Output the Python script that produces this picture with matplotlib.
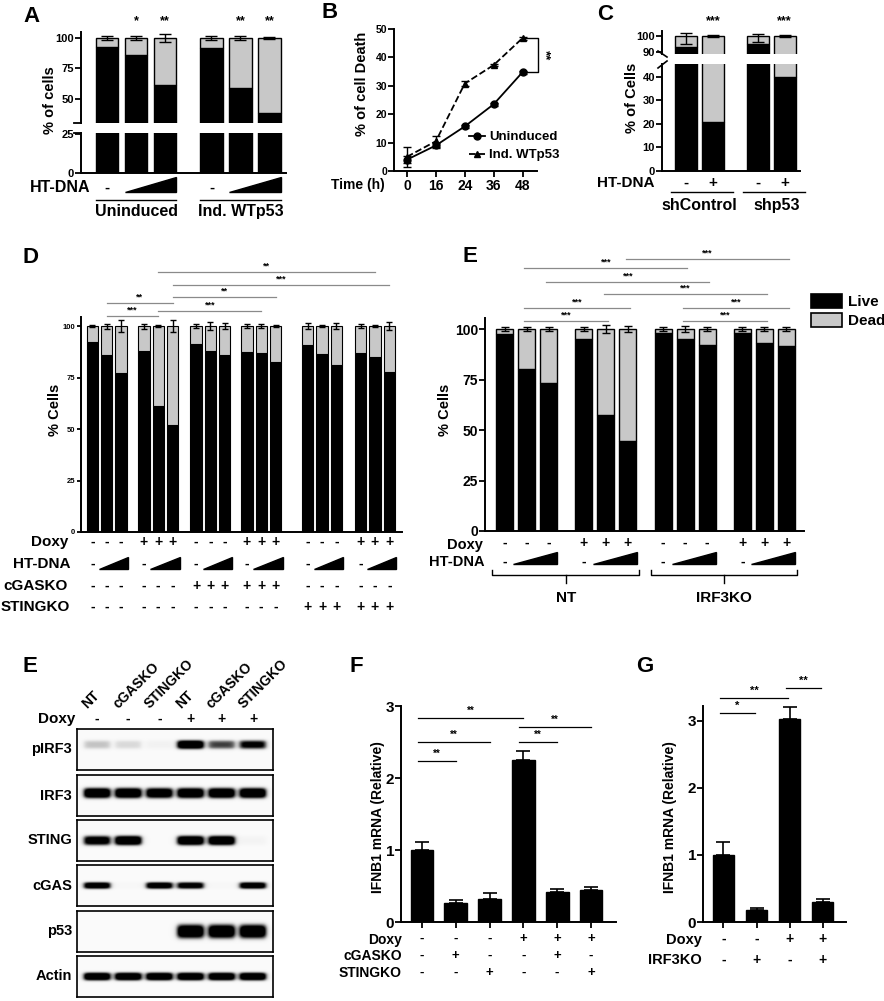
import numpy as np
import matplotlib
matplotlib.use("Agg")
import matplotlib.pyplot as plt
from matplotlib import transforms
from matplotlib.patches import Polygon, Patch
from matplotlib.lines import Line2D

plt.rcParams['font.family'] = ['Liberation Sans', 'DejaVu Sans']
plt.rcParams['font.weight'] = 'bold'

# ---------------- data ----------------
A_groups = ['Uninduced', 'Ind. WTp53']
A_live = [93, 86, 61, 92, 59, 38]
A_err = [2, 1.5, 3, 1.5, 2, 1]
A_sig = ['', '*', '**', '', '**', '**']

B_time = ['0', '16', '24', '36', '48']
B_uninduced = [4, 9, 15.7, 23.5, 34.8]
B_uninduced_err = [1.2, 1, 0.5, 0.5, 0.5]
B_wtp53 = [5, 10.5, 30.8, 37.3, 46.8]
B_wtp53_err = [3.5, 2, 1, 0.5, 0.5]

C_groups = ['shControl', 'shp53']
C_live = [93, 21, 95, 40]
C_err_lo = [5, 0.5, 4, 0.5]
C_err_hi = [2, 0.5, 1, 0.5]
C_htdna = ['-', '+', '-', '+']
C_sig = ['', '***', '', '***']

D_live = [92.5, 86, 77, 88, 61, 52, 91.5, 88, 86, 87.5, 87, 82.5,
          91, 86.5, 81, 87, 85, 77.5]
D_err = [0.5, 1.2, 3, 1.2, 0.5, 3, 1, 1.8, 1.5, 0.8, 1, 0.5,
         1.5, 0.5, 1.5, 1, 0.5, 1.8]
D_doxy = list('---+++---+++---+++')
D_cgasko = list('------++++++------')
D_stingko = list('------------++++++')
D_sig = [(4, 16, '**'), (5, 17, '***'), (5, 11, '**'), (4, 10, '***'),
         (1, 5, '**'), (1, 4, '***')]

E_live = [97.5, 80, 73.5, 95, 57.5, 44.5, 98, 95, 92, 98, 93, 91.5]
E_err = [1, 1, 1, 0.8, 1.8, 1.5, 0.8, 1.5, 0.8, 0.8, 0.8, 0.8]
E_doxy = list('---+++---+++')
E_groups = ['NT', 'IRF3KO']
E_sig = [(5, 11, '***'), (1, 7, '***'), (2, 8, '***'), (4, 10, '***'),
         (1, 5, '***'), (7, 11, '***'), (1, 4, '***'), (7, 10, '***')]

blot_lanes = ['NT', 'cGASKO', 'STINGKO', 'NT', 'cGASKO', 'STINGKO']
blot_doxy = ['-', '-', '-', '+', '+', '+']
blot_rows = ['pIRF3', 'IRF3', 'STING', 'cGAS', 'p53', 'Actin']
blot_intensity = [
    [0.22, 0.15, 0.05, 1.0, 0.55, 0.75],
    [1.0, 1.0, 0.95, 1.0, 1.0, 1.0],
    [0.85, 1.0, 0.0, 1.0, 1.0, 0.04],
    [0.9, 0.02, 0.9, 0.85, 0.02, 0.9],
    [0.0, 0.0, 0.0, 1.0, 1.0, 1.0],
    [1.0, 1.0, 1.0, 1.0, 1.0, 1.0],
]

F_vals = [1.0, 0.26, 0.32, 2.25, 0.42, 0.45]
F_err = [0.11, 0.04, 0.08, 0.12, 0.04, 0.03]
F_doxy = list('---+++')
F_cgasko = list('-+--+-')
F_stingko = list('--+--+')
F_sig = [(0, 3, '**'), (0, 2, '**'), (0, 1, '**'), (3, 5, '**'), (3, 4, '**')]

G_vals = [1.0, 0.18, 3.02, 0.30]
G_err = [0.2, 0.03, 0.18, 0.05]
G_doxy = list('--++')
G_irf3ko = list('-+-+')
G_sig = [(0, 2, '**'), (0, 1, '*'), (2, 3, '**')]

# ---------------- helpers ----------------
W, H = 884, 1001
fig = plt.figure(figsize=(W / 100, H / 100), dpi=100)
GRAY = '#c8c8c8'
SIGGRAY = '#8a8a8a'


def pax(x0, y0, x1, y1):
    return fig.add_axes([x0 / W, 1 - y1 / H, (x1 - x0) / W, (y1 - y0) / H])


def fy(y):
    return 1 - y / H


def fx(x):
    return x / W


def btr(ax):
    return transforms.blended_transform_factory(ax.transData, fig.transFigure)


def style(ax, fs, bottom=True, xticks=False):
    for s in ['top', 'right']:
        ax.spines[s].set_visible(False)
    ax.spines['left'].set_linewidth(1.4)
    ax.spines['bottom'].set_linewidth(1.4)
    if not bottom:
        ax.spines['bottom'].set_visible(False)
    ax.tick_params(axis='y', direction='out', length=4, width=1.3, labelsize=fs, pad=1)
    if not xticks:
        ax.tick_params(axis='x', length=0, labelbottom=False)
    for lab in ax.get_yticklabels():
        lab.set_fontweight('bold')


def letter(x, y, s):
    fig.text(fx(x), fy(y), s, fontsize=16, fontweight='bold', ha='center', va='center')


def stacked(ax, pos, live, width, err_lo, err_hi, lw=1.0, cap=3):
    dead = [100 - v for v in live]
    ax.bar(pos, live, width, color='black', edgecolor='black', linewidth=lw, zorder=2)
    ax.bar(pos, dead, width, bottom=live, color=GRAY, edgecolor='black', linewidth=lw, zorder=2)
    ax.errorbar(pos, [100] * len(pos), yerr=[err_lo, err_hi], fmt='none', ecolor='black',
                elinewidth=1.0, capsize=cap, capthick=1.0, zorder=3)


def sign_row(ax, xs, signs, y, fs):
    tr = btr(ax)
    for x, s in zip(xs, signs):
        ax.text(x, fy(y), s, transform=tr, ha='center', va='center', fontsize=fs,
                fontweight='bold', clip_on=False)


def ramp(ax, xl, xr, yb, yt):
    p = Polygon([(xl, fy(yb)), (xr, fy(yb)), (xr, fy(yt))], closed=True, color='black',
                transform=btr(ax), clip_on=False)
    ax.add_artist(p)


def hline(ax, x1, x2, y, color='black', lw=1.0):
    ax.add_artist(Line2D([x1, x2], [fy(y), fy(y)], color=color, lw=lw, transform=btr(ax),
                         clip_on=False))


def sig(ax, x1, x2, y, txt, color, fs, dy=2, lw=0.9):
    hline(ax, x1, x2, y, color, lw)
    ax.text((x1 + x2) / 2, fy(y - dy), txt, transform=btr(ax), ha='center', va='bottom',
            fontsize=fs, fontweight='bold', clip_on=False)


# ================= Panel A =================
letter(32, 16, 'A')
A_pos = np.array([0, 1, 2, 3.6, 4.6, 5.6])
A_w = 0.78
axAt = pax(81, 32, 286, 123)
axAb = pax(81, 133, 286, 173)
for ax in (axAt, axAb):
    stacked(ax, A_pos, A_live, A_w, A_err, A_err, cap=4)
axAt.set_yticks([50, 75, 100])
axAb.set_yticks([0, 25])
style(axAt, 8, bottom=False)
style(axAb, 8)
for yy in (123, 133):
    fig.add_artist(Line2D([fx(74), fx(81)], [fy(yy), fy(yy)], color='black', lw=1.3))
fig.text(fx(50), fy(100), '% of cells', rotation=90, fontsize=10.5, fontweight='bold',
         ha='center', va='center')
for x, s in zip(A_pos, A_sig):
    if s:
        axAt.text(x, fy(27), s, transform=btr(axAt), ha='center', va='bottom', fontsize=9,
                  fontweight='bold')
fig.text(fx(90), fy(188), 'HT-DNA', fontsize=11.5, fontweight='bold', ha='right', va='center')
for g in range(2):
    i0 = 3 * g
    sign_row(axAb, [A_pos[i0]], ['-'], 188, 11)
    ramp(axAb, A_pos[i0 + 1] - A_w / 2, A_pos[i0 + 2] + A_w / 2, 192, 177)
    hline(axAb, A_pos[i0] - A_w / 2, A_pos[i0 + 2] + A_w / 2, 200, 'black', 1.0)
    axAb.text((A_pos[i0] + A_pos[i0 + 2]) / 2, fy(212), A_groups[g], transform=btr(axAb),
              ha='center', va='center', fontsize=11.5, fontweight='bold')
for ax in (axAt, axAb):
    ax.set_xlim(-0.9, 6.17)
axAt.set_ylim(30, 105)
axAb.set_ylim(0, 25.6)

# ================= Panel B =================
letter(330, 13, 'B')
axB = pax(394, 29, 537, 171)
xB = np.arange(len(B_time))
axB.errorbar(xB, B_uninduced, yerr=B_uninduced_err, color='black', lw=1.3, marker='o',
             markersize=5, capsize=3, elinewidth=1, label='Uninduced')
axB.errorbar(xB, B_wtp53, yerr=B_wtp53_err, color='black', lw=1.3, ls='--', marker='^',
             markersize=5, capsize=3, elinewidth=1, label='Ind. WTp53')
axB.set_yticks([0, 10, 20, 30, 40, 50])
style(axB, 7.5, xticks=True)
axB.set_xticks(xB)
axB.set_xticklabels(B_time, fontsize=10, fontweight='bold')
axB.tick_params(axis='x', direction='out', length=4, width=1.3, pad=2)
fig.text(fx(358), fy(185), 'Time (h)', fontsize=10, fontweight='bold', ha='center', va='center')
fig.text(fx(362), fy(84), '% of cell Death', rotation=90, fontsize=10.5, fontweight='bold',
         ha='center', va='center')
hB = [Line2D([], [], color='black', lw=1.3, marker='o', markersize=5),
      Line2D([], [], color='black', lw=1.3, ls='--', marker='^', markersize=5)]
axB.legend(hB, ['Uninduced', 'Ind. WTp53'], loc='upper left',
           bbox_to_anchor=(fx(469), fy(131)), bbox_transform=fig.transFigure, frameon=False,
           handlelength=1.2, handletextpad=0.3, labelspacing=0.45,
           borderpad=0, borderaxespad=0, prop={'weight': 'bold', 'size': 9.5})
brx = 4.55
axB.add_artist(Line2D([4.1, brx, brx, 4.1], [B_wtp53[-1], B_wtp53[-1], B_uninduced[-1],
                      B_uninduced[-1]], color='black', lw=1.0, clip_on=False))
axB.text(4.78, (B_wtp53[-1] + B_uninduced[-1]) / 2, '**', rotation=270, ha='center',
         va='center', fontsize=9.5, fontweight='bold', clip_on=False)
axB.set_xlim(-0.45, 4.5)
axB.set_ylim(0, 50)

# ================= Panel C =================
letter(605, 15, 'C')
C_pos = np.array([0, 1, 2.65, 3.65])
C_w = 0.81
axCt = pax(662, 31, 800, 54)
axCb = pax(662, 64, 800, 171)
for ax in (axCt, axCb):
    stacked(ax, C_pos, C_live, C_w, C_err_lo, C_err_hi, cap=4)
axCt.set_yticks([90, 100])
axCb.set_yticks([0, 10, 20, 30, 40])
style(axCt, 8, bottom=False)
style(axCb, 8)
for (x0, y0, x1, y1) in [(658, 51, 667, 57), (658, 68, 667, 61)]:
    fig.add_artist(Line2D([fx(x0), fx(x1)], [fy(y0), fy(y1)], color='black', lw=1.2))
fig.text(fx(632), fy(98), '% of Cells', rotation=90, fontsize=10.5, fontweight='bold',
         ha='center', va='center')
for x, s in zip(C_pos, C_sig):
    if s:
        axCt.text(x, fy(27), s, transform=btr(axCt), ha='center', va='bottom', fontsize=9,
                  fontweight='bold')
fig.text(fx(655), fy(183), 'HT-DNA', fontsize=11, fontweight='bold', ha='right', va='center')
sign_row(axCb, C_pos, C_htdna, 183, 11)
for g in range(2):
    hline(axCb, C_pos[2 * g] - 0.55, C_pos[2 * g + 1] + 0.75, 192, 'black', 1.0)
fig.text(fx(699), fy(205), C_groups[0], fontsize=11.5, fontweight='bold', ha='center', va='center')
fig.text(fx(777), fy(205), C_groups[1], fontsize=11.5, fontweight='bold', ha='center', va='center')
for ax in (axCt, axCb):
    ax.set_xlim(-0.89, 4.22)
axCt.set_ylim(88.5, 103)
axCb.set_ylim(0, 45.5)

# ================= Panel D =================
letter(31, 257, 'D')
D_off = [0, 3.6, 7.25, 10.8, 15.05, 18.75]
D_pos = np.array([o + k for o in D_off for k in range(3)])
D_w = 0.8
axD = pax(81, 317, 402, 532)
stacked(axD, D_pos, D_live, D_w, D_err, D_err, lw=0.8, cap=2.5)
axD.set_yticks([0, 25, 50, 75, 100])
style(axD, 5.5)
axD.tick_params(axis='y', length=3)
fig.text(fx(55), fy(410), '% Cells', rotation=90, fontsize=10.5, fontweight='bold',
         ha='center', va='center')
D_levels = [272, 285, 297, 311, 303, 316]
for (i, j, t), yy in zip(D_sig, D_levels):
    sig(axD, D_pos[i], D_pos[j], yy, t, SIGGRAY, 6.5, dy=1)
fig.text(fx(68), fy(542), 'Doxy', fontsize=11, fontweight='bold', ha='right', va='center')
fig.text(fx(70), fy(564), 'HT-DNA', fontsize=11, fontweight='bold', ha='right', va='center')
fig.text(fx(68), fy(586), 'cGASKO', fontsize=11, fontweight='bold', ha='right', va='center')
fig.text(fx(70), fy(607), 'STINGKO', fontsize=11, fontweight='bold', ha='right', va='center')
sign_row(axD, D_pos, D_doxy, 542, 10)
sign_row(axD, D_pos, D_cgasko, 586, 10)
sign_row(axD, D_pos, D_stingko, 607, 10)
for g in range(6):
    i0 = 3 * g
    sign_row(axD, [D_pos[i0]], ['-'], 564, 10)
    ramp(axD, D_pos[i0 + 1] - 0.55, D_pos[i0 + 2] + 0.5, 569, 557)
axD.set_xlim(-0.8, 21.64)
axD.set_ylim(0, 104.4)

# ================= Panel E (bars) =================
letter(470, 256, 'E')
E_off = [0, 3.6, 7.2, 10.8]
E_pos = np.array([o + k for o in E_off for k in range(3)])
E_w = 0.77
axE = pax(485, 318, 804, 531)
stacked(axE, E_pos, E_live, E_w, E_err, E_err, lw=1.0, cap=3)
axE.set_yticks([0, 25, 50, 75, 100])
style(axE, 10)
fig.text(fx(445), fy(410), '% Cells', rotation=90, fontsize=10.5, fontweight='bold',
         ha='center', va='center')
E_levels = [259, 268, 282, 294, 308, 308, 321, 321]
for (i, j, t), yy in zip(E_sig, E_levels):
    sig(axE, E_pos[i] - 0.1, E_pos[j] + 0.1, yy, t, SIGGRAY, 6.5, dy=1)
fig.text(fx(483), fy(545), 'Doxy', fontsize=10.5, fontweight='bold', ha='right', va='center')
fig.text(fx(485), fy(562), 'HT-DNA', fontsize=10.5, fontweight='bold', ha='right', va='center')
sign_row(axE, E_pos, E_doxy, 543, 10)
for g in range(4):
    i0 = 3 * g
    sign_row(axE, [E_pos[i0]], ['-'], 562, 10)
    ramp(axE, E_pos[i0 + 1] - 0.6, E_pos[i0 + 2] + 0.4, 564, 552)
for g in range(2):
    xl = E_pos[6 * g] - 0.55
    xr = E_pos[6 * g + 5] + 0.5
    xm = (xl + xr) / 2
    axE.add_artist(Line2D([xl, xl, xr, xr], [fy(570), fy(575), fy(575), fy(570)], color='black',
                          lw=1.0, transform=btr(axE), clip_on=False))
    axE.add_artist(Line2D([xm, xm], [fy(575), fy(583)], color='black', lw=1.0,
                          transform=btr(axE), clip_on=False))
    axE.text(xm, fy(598), E_groups[g], transform=btr(axE), ha='center', va='center',
             fontsize=11, fontweight='bold')
fig.legend([Patch(facecolor='black', edgecolor='black', lw=1.2),
            Patch(facecolor=GRAY, edgecolor='black', lw=1.2)], ['Live', 'Dead'],
           loc='upper left', bbox_to_anchor=(fx(811), fy(294)), frameon=False,
           handlelength=2.0, handleheight=1.0, handletextpad=0.4, labelspacing=0.25,
           borderpad=0, borderaxespad=0, prop={'weight': 'bold', 'size': 11})
axE.set_xlim(-0.89, 13.6)
axE.set_ylim(0, 105.5)

# ================= Western blot =================
letter(30, 667, 'E')
box_top = [729, 775, 820, 865, 911, 956]
box_h = 41
band_yc = [0.62, 0.56, 0.5, 0.5, 0.49, 0.5]
band_half = [0.11, 0.13, 0.12, 0.085, 0.17, 0.1]
xs = np.linspace(-0.64, 5.64, 392)
ysg = np.linspace(0, 1, 84)
X, Y = np.meshgrid(xs, ysg)
for r, name in enumerate(blot_rows):
    ax = pax(77, box_top[r], 273, box_top[r] + box_h)
    img = np.full(X.shape, 0.04)
    for i, a in enumerate(blot_intensity[r]):
        hprof = 1 / (1 + np.exp((np.abs(X - i) - 0.42) / 0.05))
        vprof = np.exp(-(np.abs(Y - band_yc[r]) / band_half[r]) ** 3)
        img += 1.4 * a * hprof * vprof
    img = np.clip(img, 0, 1)
    ax.imshow(img, cmap='Greys', vmin=0, vmax=1, extent=(-0.64, 5.64, 0, 1),
              aspect='auto', origin='lower', interpolation='bilinear')
    ax.set_xticks([])
    ax.set_yticks([])
    for s in ax.spines.values():
        s.set_linewidth(1.2)
    fig.text(fx(72), fy(box_top[r] + box_h / 2), name, fontsize=10.5, fontweight='bold',
             ha='right', va='center')
    if r == 0:
        blot_ax0 = ax
tr0 = btr(blot_ax0)
for i, lab in enumerate(blot_lanes):
    blot_ax0.text(i - 0.25, fy(711), lab, transform=tr0, rotation=45, rotation_mode='anchor',
                  ha='left', va='bottom', fontsize=10, fontweight='bold', clip_on=False)
sign_row(blot_ax0, range(6), blot_doxy, 719, 10)
fig.text(fx(75), fy(719), 'Doxy', fontsize=11, fontweight='bold', ha='right', va='center')

# ================= Panel F =================
letter(356, 667, 'F')
axF = pax(401, 706, 616, 922)
xF = np.arange(len(F_vals))
axF.bar(xF, F_vals, 0.67, color='black', edgecolor='black', zorder=2)
axF.errorbar(xF, F_vals, yerr=[np.zeros(len(F_err)), F_err], fmt='none', ecolor='black',
             elinewidth=1.2, capsize=5, capthick=1.2)
axF.set_yticks([0, 1, 2, 3])
style(axF, 11, xticks=True)
axF.set_xticks(xF)
axF.tick_params(axis='x', direction='out', length=4, width=1.3, labelbottom=False)
fig.text(fx(378), fy(817), 'IFNB1 mRNA (Relative)', rotation=90, fontsize=10, fontweight='bold',
         ha='center', va='center')
F_levels = [718, 742, 761, 727, 742]
for (i, j, t), yy in zip(F_sig, F_levels):
    sig(axF, xF[i] - 0.12, xF[j], yy, t, 'black', 7, dy=2, lw=0.9)
fig.text(fx(402), fy(940), 'Doxy', fontsize=10, fontweight='bold', ha='right', va='center')
fig.text(fx(402), fy(956), 'cGASKO', fontsize=10, fontweight='bold', ha='right', va='center')
fig.text(fx(402), fy(973), 'STINGKO', fontsize=10, fontweight='bold', ha='right', va='center')
sign_row(axF, xF, F_doxy, 939, 9.5)
sign_row(axF, xF, F_cgasko, 956, 9.5)
sign_row(axF, xF, F_stingko, 973, 9.5)
axF.set_xlim(-0.62, 5.74)
axF.set_ylim(0, 3)

# ================= Panel G =================
letter(645, 667, 'G')
axG = pax(703, 706, 846, 922)
xG = np.arange(len(G_vals))
axG.bar(xG, G_vals, 0.65, color='black', edgecolor='black', zorder=2)
axG.errorbar(xG, G_vals, yerr=[np.zeros(len(G_err)), G_err], fmt='none', ecolor='black',
             elinewidth=1.2, capsize=5, capthick=1.2)
axG.set_yticks([0, 1, 2, 3])
style(axG, 11, xticks=True)
axG.set_xticks(xG)
axG.tick_params(axis='x', direction='out', length=4, width=1.3, labelbottom=False)
fig.text(fx(670), fy(817), 'IFNB1 mRNA (Relative)', rotation=90, fontsize=10, fontweight='bold',
         ha='center', va='center')
G_levels = [698, 713, 688]
for (i, j, t), yy in zip(G_sig, G_levels):
    sig(axG, xG[i] - 0.1, xG[j] - 0.05, yy, t, 'black', 8, dy=2, lw=0.9)
fig.text(fx(702), fy(940), 'Doxy', fontsize=10.5, fontweight='bold', ha='right', va='center')
fig.text(fx(702), fy(960), 'IRF3KO', fontsize=10.5, fontweight='bold', ha='right', va='center')
sign_row(axG, xG, G_doxy, 939, 10)
sign_row(axG, xG, G_irf3ko, 960, 10)
axG.set_xlim(-0.62, 3.71)
axG.set_ylim(0, 3.22)

fig.savefig('out.png', dpi=100)
